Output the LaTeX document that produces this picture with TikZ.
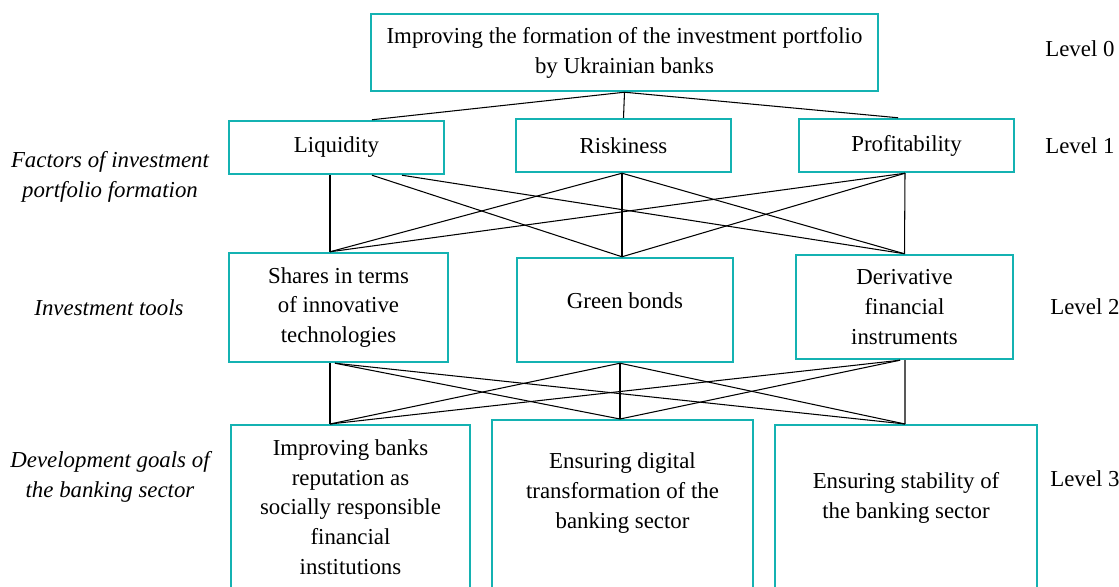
\documentclass[tikz,border=0pt]{standalone}
\usepackage{fontspec}
\setmainfont{Liberation Serif}
\usetikzlibrary{calc}
\definecolor{tealbox}{RGB}{20,178,178}
\begin{document}
\begin{tikzpicture}[x=0.02cm,y=-0.02cm,font=\fontsize{13}{17}\selectfont,
 box/.style={draw=tealbox,line width=1.4pt,align=center,inner sep=0pt},
 lvl/.style={anchor=west,inner sep=0pt},
 side/.style={align=center,inner sep=0pt,font=\fontsize{13}{17}\selectfont\itshape},
 goal/.style={anchor=north,align=center,inner sep=0pt}]
 \clip (0,0) rectangle (1119,587);
 \node[box,minimum width=10.14cm,minimum height=1.54cm] (port) at (624.5,52.5) {Improving the formation of the investment portfolio\\by Ukrainian banks};
 % Level 1
 \node[box,minimum width=4.3cm,minimum height=1.06cm] (liq) at (336.5,147.5) {Liquidity};
 \node[box,minimum width=4.3cm,minimum height=1.06cm] (risk) at (623.5,145.5) {Riskiness};
 \node[box,minimum width=4.3cm,minimum height=1.06cm] (prof) at (906.5,145.5) {Profitability};
 % Level 2
 \node[box,minimum width=4.38cm,minimum height=2.18cm] (shares) at (338.5,307.5) {Shares in terms\\of innovative\\technologies};
 \node[box,minimum width=4.32cm,minimum height=2.08cm,text depth=11pt] (green) at (625,310) {Green bonds};
 \node[box,minimum width=4.34cm,minimum height=2.08cm] (deriv) at (904.5,307) {Derivative\\financial\\instruments};
 % Level 3
 \node[box,anchor=north,minimum width=4.78cm,minimum height=3.6cm,
  label={[goal,yshift=-0.3cm]north:Improving banks\\reputation as\\socially responsible\\financial\\institutions}] (impr) at (350.5,424) {};
 \node[box,anchor=north,minimum width=5.22cm,minimum height=3.7cm,
  label={[goal,yshift=-0.666cm]north:Ensuring digital\\transformation of the\\banking sector}] (dig) at (622.5,419) {};
 \node[box,anchor=north,minimum width=5.24cm,minimum height=3.6cm,
  label={[goal,yshift=-0.966cm]north:Ensuring stability of\\the banking sector}] (stab) at (906,424) {};
 \foreach \p/\dp/\q/\dq in {port/0/liq/35.5,port/0/risk/0,port/0/prof/-8.5,
  liq/-6.5/shares/-8.5,liq/35.5/green/-3,liq/65.5/deriv/0,
  risk/-1.5/shares/-8.5,risk/-1.5/green/-3,risk/-1.5/deriv/0,
  prof/-1.5/shares/-8.5,prof/-1.5/green/-3,prof/-1.5/deriv/0,
  shares/-8.5/impr/-20.5,shares/-3.5/dig/-2.5,shares/-3.5/stab/-1,
  green/-5/impr/-20.5,green/-5/dig/-2.5,green/-5/stab/-1,
  deriv/-4.5/impr/-20.5,deriv/-4.5/dig/-2.5,deriv/0.5/stab/-1}
  \draw[line width=0.6pt] ($(\p.south)+(\dp,0)$)--($(\q.north)+(\dq,0)$);
 \node[lvl] (l0) at (1045,49) {Level 0};
 \node[lvl] (l1) at (1045,146) {Level 1};
 \node[lvl] (l2) at (1050,307) {Level 2};
 \node[lvl] (l3) at (1050,479) {Level 3};
 \node[side] (fac) at (110,177) {Factors of investment\\portfolio formation};
 \node[side] (tools) at (109,308) {Investment tools};
 \node[side] (goals) at (110,477) {Development goals of\\the banking sector};
\end{tikzpicture}
\end{document}
